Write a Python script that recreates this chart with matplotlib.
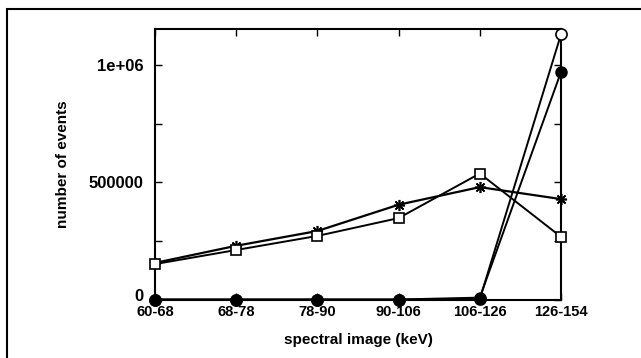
import matplotlib.pyplot as plt
import matplotlib.transforms as mtransforms
from matplotlib.patches import Rectangle

# spectral windows (keV) and event counts
categories = ['60-68', '68-78', '78-90', '90-106', '106-126', '126-154']
squares = [151000, 211000, 271000, 347000, 537000, 267000]
stars = [156000, 229000, 292000, 404000, 479000, 428000]
open_circles = [0, 0, 0, 0, 2000, 1130000]
filled_circles = [0, 0, 0, 0, 8000, 970000]

plt.rcParams['font.family'] = ['Liberation Sans', 'DejaVu Sans']
plt.rcParams['font.weight'] = 'bold'

fig = plt.figure(figsize=(6.41, 3.58), dpi=100)
ax = fig.add_axes([155 / 641, 1 - 299.5 / 358, 406 / 641, 270.5 / 358])

# outer frame of the scanned figure (right/bottom edges fall off the image)
fig.patches.append(Rectangle((7 / 641, -0.1), 1.2, 1 - 9 / 358 + 0.1,
                             transform=fig.transFigure, fill=False,
                             edgecolor='black', linewidth=1.5))

x = list(range(len(categories)))
ax.plot(x, open_circles, color='black', lw=1.4, marker='o', ms=8,
        mfc='white', mec='black', mew=1.2, clip_on=False, zorder=3)
ax.plot(x, filled_circles, color='black', lw=1.4, marker='o', ms=8,
        mfc='black', mec='black', clip_on=False, zorder=4)
ax.plot(x, stars, color='black', lw=1.6, marker=(8, 2, 0), ms=8,
        mew=1.2, clip_on=False, zorder=5)
ax.plot(x, squares, color='black', lw=1.4, marker='s', ms=7.5,
        mfc='white', mec='black', mew=1.2, clip_on=False, zorder=6)

ax.set_xlim(0, len(categories) - 1)
ax.set_ylim(0, 1153000)
ax.set_xticks(x)
ax.set_xticklabels(categories, fontsize=10.5, fontweight='bold')
ax.set_yticks([0, 250000, 500000, 750000, 1000000])
ax.set_yticklabels(['0', '', '500000', '', '1e+06'], fontsize=12, fontweight='bold')
ax.tick_params(direction='in', length=5, width=1, top=True, right=True)
ax.tick_params(axis='x', pad=4)
ax.tick_params(axis='y', pad=8)
for s in ax.spines.values():
    s.set_linewidth(1.5)

# the "0" label sits a little above the baseline, as in the original
zero = ax.get_yticklabels()[0]
zero.set_transform(zero.get_transform() +
                   mtransforms.ScaledTranslation(0, 3 / 72, fig.dpi_scale_trans))

ax.set_xlabel('spectral image (keV)', fontsize=11, fontweight='bold', labelpad=10)
ax.set_ylabel('number of events', fontsize=11, fontweight='bold', labelpad=14)

fig.savefig('out.png', dpi=100)
